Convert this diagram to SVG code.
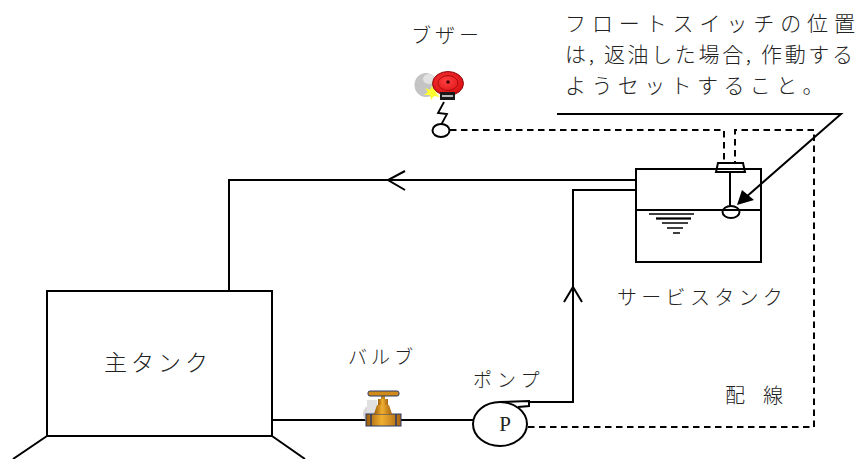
<svg xmlns="http://www.w3.org/2000/svg" width="858" height="459" viewBox="0 0 858 459">
  <style>
    .ln { fill: none; stroke: #000; stroke-width: 2; }
    .dash { fill: none; stroke: #000; stroke-width: 2; stroke-dasharray: 6.5 4.5; }
    .lbl { font-family: "Noto Sans CJK JP", sans-serif; font-weight: 300; fill: #222; }
  </style>
  <defs>
    <linearGradient id="brass" x1="0" y1="0" x2="1" y2="0">
      <stop offset="0" stop-color="#9a5a08"/>
      <stop offset="0.45" stop-color="#f0b030"/>
      <stop offset="1" stop-color="#a86410"/>
    </linearGradient>
    <radialGradient id="bell" cx="0.45" cy="0.4" r="0.6">
      <stop offset="0" stop-color="#ff4040"/>
      <stop offset="1" stop-color="#d80c10"/>
    </radialGradient>
  </defs>
  <rect width="858" height="459" fill="#fff"/>

  <!-- piping and wiring -->
  <g id="connectors">
    <!-- return line: service tank to main tank -->
    <path class="ln" d="M636,180 H229 V291"/>
    <path class="ln" d="M405,171 L388,180 L405,190"/>
    <!-- supply line: main tank, valve, pump, service tank -->
    <path class="ln" d="M272,420 H473"/>
    <path class="ln" d="M528,402 H573 V190 H636"/>
    <path class="ln" d="M564,302 L573,287 L582,302"/>
    <!-- wiring -->
    <path class="dash" d="M450,130 H724 V163"/>
    <path class="dash" d="M528,427 H814 V130 H735 V163"/>
    <!-- note leader -->
    <path class="ln" d="M557,114 H841 L745,198"/>
    <polygon points="737,205 742,190 754,200" fill="#000"/>
  </g>

  <!-- main tank -->
  <g id="main-tank">
    <rect class="ln" x="47" y="291" width="225" height="145"/>
    <path class="ln" d="M47,436 L13,459 M272,436 L305,459"/>
    <text class="lbl" x="104" y="371" font-size="23" letter-spacing="4">主タンク</text>
  </g>

  <!-- service tank with float switch -->
  <g id="service-tank">
    <rect class="ln" x="636" y="169" width="125" height="93"/>
    <path class="ln" d="M636,210 H761"/>
    <path fill="none" stroke="#000" stroke-width="1.6" d="M649,214 H694 M656,218.5 H691 M662,223 H688 M667,228 H683 M673,233 H680"/>
    <path class="ln" d="M656,218.5 H691"/>
    <path class="ln" d="M730,172 V206"/>
    <polygon class="ln" points="718,163 743,163 745,172 716,172" fill="#fff"/>
    <ellipse class="ln" cx="731" cy="212" rx="8.5" ry="6" fill="#fff"/>
    <text class="lbl" x="617" y="305" font-size="20" letter-spacing="4.3">サービスタンク</text>
  </g>

  <!-- buzzer -->
  <g id="buzzer">
    <ellipse cx="426" cy="85" rx="11.5" ry="12" fill="#c4c4c4"/>
    <ellipse cx="429" cy="79" rx="6" ry="5" fill="#e2e2e2"/>
    <polygon points="432,86 434,90 439,88 436,93 440,97 434,96 431,100 430,95 424,95 428,92 425,88 430,90" fill="#ffff30"/>
    <ellipse cx="448" cy="83.5" rx="15.5" ry="12" fill="url(#bell)" stroke="#901010" stroke-width="1"/>
    <ellipse cx="448" cy="83" rx="10" ry="7.5" fill="none" stroke="#b00a0a" stroke-width="1"/>
    <circle cx="448" cy="82" r="1.8" fill="#400"/>
    <rect x="440" y="92" width="15" height="8" fill="#1a1a1a"/>
    <rect x="442" y="95" width="11" height="2" fill="#bbb"/>
    <path fill="none" stroke="#000" stroke-width="1.8" d="M444,102 L438,113 L447,114 L441,125"/>
    <ellipse cx="441" cy="130.5" rx="8.5" ry="6.5" fill="#fff" stroke="#000" stroke-width="2"/>
    <text class="lbl" x="411" y="43" font-size="20" letter-spacing="4">ブザー</text>
  </g>

  <!-- valve -->
  <g id="valve">
    <ellipse cx="371" cy="414" rx="8" ry="9" fill="#d8d8d8"/>
    <rect x="367" y="400" width="10" height="12" fill="#e0e0e0"/>
    <rect x="366" y="414" width="35" height="12" fill="url(#brass)" stroke="#2a3a6a" stroke-width="1"/>
    <path d="M371,414 V426 M396,414 V426" stroke="#2a3a6a" stroke-width="1.5"/>
    <path d="M374,414 L377,405 H389 L392,414 Z" fill="url(#brass)"/>
    <rect x="378" y="399" width="10" height="6" fill="url(#brass)"/>
    <rect x="381" y="395" width="4" height="4" fill="#c88a18"/>
    <rect x="368" y="391" width="31" height="5" rx="2" fill="#d08a18" stroke="#2a3a6a" stroke-width="1"/>
    <text class="lbl" x="348" y="364" font-size="19" letter-spacing="4">バルブ</text>
  </g>

  <!-- pump -->
  <g id="pump">
    <ellipse class="ln" cx="500" cy="424" rx="27" ry="22" fill="#fff"/>
    <path class="ln" d="M499,402 L529,401 V406 L518,407"/>
    <text x="505" y="431" font-size="21" text-anchor="middle" font-family="Liberation Serif, serif" fill="#222">P</text>
    <text class="lbl" x="473" y="387" font-size="19" letter-spacing="5">ポンプ</text>
  </g>

  <!-- wiring label -->
  <g id="wiring-label">
    <text class="lbl" x="725" y="403" font-size="20">配</text>
    <text class="lbl" x="763" y="403" font-size="20">線</text>
  </g>

  <!-- note -->
  <g id="note">
    <text class="lbl" x="565" y="31" font-size="21" textLength="290" lengthAdjust="spacing">フロートスイッチの位置</text>
    <text class="lbl" x="565" y="62" font-size="21" textLength="288" lengthAdjust="spacing" xml:space="preserve">は, 返油した場合, 作動する</text>
    <text class="lbl" x="565" y="93" font-size="21" letter-spacing="5.4">ようセットすること。</text>
  </g>
</svg>
